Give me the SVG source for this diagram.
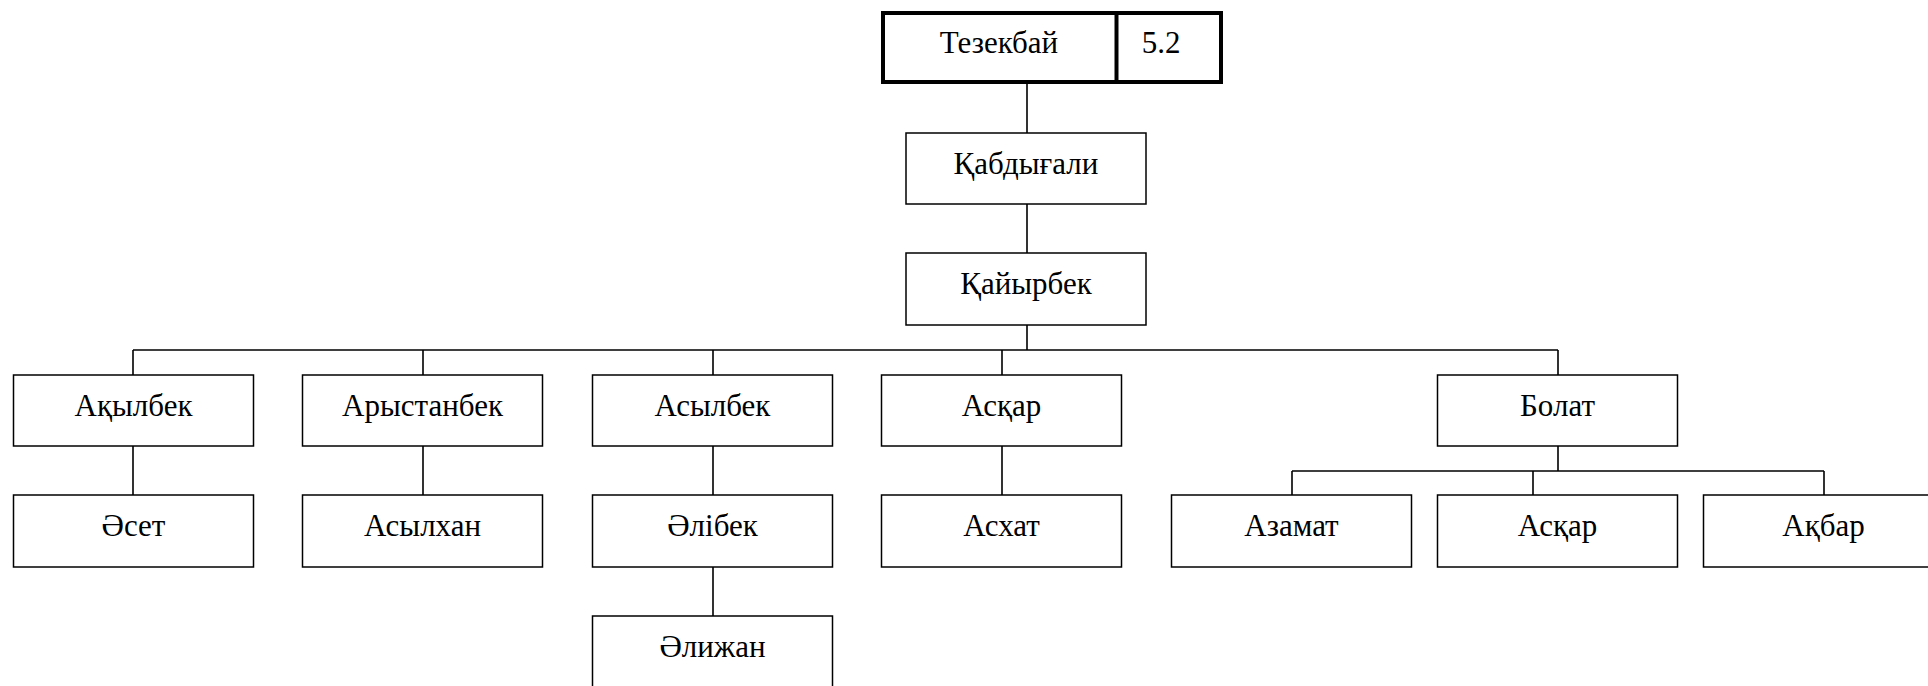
<svg xmlns="http://www.w3.org/2000/svg" width="1928" height="686" viewBox="0 0 1928 686">
<style>
.b{fill:#fff;stroke:#000;stroke-width:1.5}
.t{fill:#000;font-family:"Liberation Serif","Times New Roman",serif;font-size:31px;text-anchor:middle}
.c{fill:none;stroke:#000;stroke-width:1.6}
.bold{fill:#fff;stroke:#000;stroke-width:4}
</style>
<rect width="1928" height="686" fill="#fff"/>
<g id="connectors">
<path class="c" d="M1027 83V133M1027 204V253M1027 325V350"/>
<path class="c" d="M133 350H1558M133 350V375M423 350V375M713 350V375M1002 350V375M1558 350V375"/>
<path class="c" d="M133 446V495M423 446V495M713 446V495M1002 446V495M713 567V616"/>
<path class="c" d="M1558 446V471M1292 471H1824M1292 471V495M1533 471V495M1824 471V495"/>
</g>
<g id="n-tezekbai">
<rect class="bold" x="883" y="13" width="338" height="69"/>
<line class="bold" x1="1116.5" y1="13" x2="1116.5" y2="82"/>
<text class="t" x="999" y="53">Тезекбай</text>
<text class="t" x="1161" y="53">5.2</text>
</g>
<g id="n-qabdygali"><rect class="b" x="906" y="133" width="240" height="71"/><text class="t" x="1026" y="174">Қабдығали</text></g>
<g id="n-qaiyrbek"><rect class="b" x="906" y="253" width="240" height="72"/><text class="t" x="1026" y="294">Қайырбек</text></g>
<g id="n-aqylbek"><rect class="b" x="13.5" y="375" width="240" height="71"/><text class="t" x="133.5" y="416">Ақылбек</text></g>
<g id="n-arystanbek"><rect class="b" x="302.5" y="375" width="240" height="71"/><text class="t" x="422.5" y="416">Арыстанбек</text></g>
<g id="n-asylbek"><rect class="b" x="592.5" y="375" width="240" height="71"/><text class="t" x="712.5" y="416">Асылбек</text></g>
<g id="n-asqar"><rect class="b" x="881.5" y="375" width="240" height="71"/><text class="t" x="1001.5" y="416">Асқар</text></g>
<g id="n-bolat"><rect class="b" x="1437.5" y="375" width="240" height="71"/><text class="t" x="1557.5" y="416">Болат</text></g>
<g id="n-aset"><rect class="b" x="13.5" y="495" width="240" height="72"/><text class="t" x="133.5" y="536">Әсет</text></g>
<g id="n-asylhan"><rect class="b" x="302.5" y="495" width="240" height="72"/><text class="t" x="422.5" y="536">Асылхан</text></g>
<g id="n-alibek"><rect class="b" x="592.5" y="495" width="240" height="72"/><text class="t" x="712.5" y="536">Әлібек</text></g>
<g id="n-ashat"><rect class="b" x="881.5" y="495" width="240" height="72"/><text class="t" x="1001.5" y="536">Асхат</text></g>
<g id="n-azamat"><rect class="b" x="1171.5" y="495" width="240" height="72"/><text class="t" x="1291.5" y="536">Азамат</text></g>
<g id="n-asqar2"><rect class="b" x="1437.5" y="495" width="240" height="72"/><text class="t" x="1557.5" y="536">Асқар</text></g>
<g id="n-aqbar"><rect class="b" x="1703.5" y="495" width="240" height="72"/><text class="t" x="1823.5" y="536">Ақбар</text></g>
<g id="n-alizhan"><rect class="b" x="592.5" y="616" width="240" height="75"/><text class="t" x="712.5" y="657">Әлижан</text></g>
</svg>
